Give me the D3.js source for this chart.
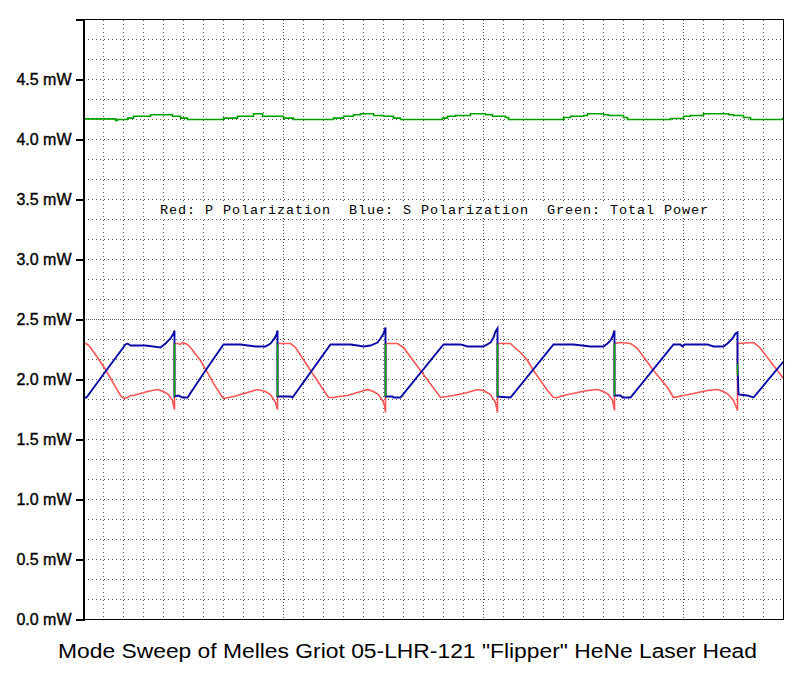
<!DOCTYPE html>
<html>
<head>
<meta charset="utf-8">
<script src="https://cdn.jsdelivr.net/npm/d3@7"></script>
<style>
  html, body { margin: 0; padding: 0; background: #fff; }
  svg { display: block; }
</style>
</head>
<body>
<svg id="chart" width="804" height="684"></svg>
<script>
// ---------------- data (x = sample index along the sweep, values in mW) ----------------
const titleText = 'Mode Sweep of Melles Griot 05-LHR-121 "Flipper" HeNe Laser Head';
const legendText = "Red: P Polarization  Blue: S Polarization  Green: Total Power";
const yTickValues = [0, 0.5, 1.0, 1.5, 2.0, 2.5, 3.0, 3.5, 4.0, 4.5];

// Red: P polarization
const redX = [0,4,7,14,22,30,37,40,44,47,50,57,64,74,80,85,89,90,91,
  91,94,97,99,104,107,117,124,130,137,140,150,164,174,182,187,192,194,
  194,197,207,212,227,245,250,255,264,274,284,290,295,299,301,302,
  302,314,317,320,337,357,370,384,394,400,407,412,414,
  414,427,430,437,444,450,457,464,470,474,480,494,504,514,520,525,529,531,
  531,537,547,550,554,570,584,590,600,610,624,634,640,645,650,654,
  654,655,670,674,677,700];
const redP = [2.308,2.292,2.267,2.183,2.083,1.967,1.867,1.842,1.850,1.867,1.867,1.883,1.900,1.917,1.900,1.875,1.825,1.783,1.750,
  2.300,2.300,2.292,2.308,2.292,2.267,2.158,2.058,1.967,1.875,1.842,1.858,1.892,1.917,1.900,1.875,1.808,1.750,
  2.300,2.300,2.300,2.267,2.075,1.850,1.850,1.858,1.867,1.892,1.917,1.900,1.875,1.825,1.783,1.725,
  2.300,2.300,2.283,2.267,2.075,1.850,1.867,1.892,1.917,1.908,1.875,1.808,1.725,
  2.300,2.300,2.275,2.225,2.158,2.075,1.992,1.908,1.850,1.850,1.867,1.892,1.908,1.917,1.900,1.875,1.825,1.742,
  2.300,2.308,2.300,2.283,2.258,2.075,1.933,1.850,1.867,1.883,1.908,1.917,1.900,1.875,1.825,1.742,
  2.300,2.300,2.308,2.283,2.258,2.008];

// Blue: S polarization
const blueX = [0,3,22,42,44,47,62,77,82,87,90,91,
  91,95,99,104,122,140,157,172,182,187,191,193,194,
  194,207,209,247,267,274,280,287,294,297,300,302,
  302,309,310,317,360,377,384,400,407,410,412,414,
  414,427,470,490,507,520,524,527,529,531,
  531,537,539,547,590,597,599,601,624,630,640,644,649,652,654,
  654,655,664,670,700];
const blueS = [1.850,1.850,2.067,2.292,2.300,2.283,2.283,2.267,2.300,2.342,2.383,2.408,
  1.858,1.867,1.850,1.850,2.075,2.292,2.292,2.275,2.275,2.300,2.342,2.375,2.408,
  1.858,1.858,1.850,2.292,2.292,2.283,2.275,2.283,2.308,2.342,2.383,2.433,
  1.858,1.858,1.850,1.850,2.292,2.292,2.275,2.275,2.308,2.350,2.400,2.425,
  1.858,1.850,2.292,2.292,2.275,2.275,2.300,2.325,2.358,2.408,
  1.867,1.867,1.850,1.850,2.292,2.292,2.275,2.292,2.292,2.275,2.275,2.300,2.342,2.383,2.392,
  2.133,1.875,1.867,1.850,2.150];

// Green: total power
const greenX = [0,32,34,44,50,67,89,97,104,140,154,170,179,200,210,250,260,270,277,290,300,310,317,
  359,364,372,387,402,409,422,425,480,487,500,504,520,525,540,544,587,600,607,620,645,650,660,667,699,700];
const greenT = [4.172,4.158,4.167,4.178,4.194,4.206,4.194,4.178,4.167,4.178,4.194,4.214,4.194,4.178,4.167,4.178,4.194,4.206,4.214,4.200,4.194,4.178,4.167,
  4.178,4.194,4.200,4.214,4.206,4.194,4.183,4.167,4.183,4.194,4.200,4.214,4.206,4.200,4.183,4.167,4.175,4.194,4.200,4.214,4.206,4.200,4.183,4.167,4.175,4.175];

// mode-hop transitions (green connectors)
const jumpX  = [91, 194, 302, 414, 531, 654];
const jumpLo = [1.858, 1.858, 1.858, 1.858, 1.867, 2.033];
const jumpHi = [2.300, 2.300, 2.300, 2.300, 2.300, 2.133];

// ---------------- drawing ----------------
const svg = d3.select("#chart");
svg.append("rect").attr("width", 804).attr("height", 684).attr("fill", "#fff");

const x = d3.scaleLinear().domain([0, 700]).range([83.5, 783.5]);
const y = d3.scaleLinear().domain([0, 5]).range([619.5, 19.5]);

// grid
const grid = svg.append("g").attr("shape-rendering", "crispEdges");
const hGrid = d3.range(1, 30).map(k => k * 5 / 30);
grid.selectAll("line.h").data(hGrid).join("line")
  .attr("x1", x(0)).attr("x2", x(700))
  .attr("y1", d => Math.round(y(d) - 0.5) + 0.5).attr("y2", d => Math.round(y(d) - 0.5) + 0.5)
  .attr("stroke", "#555").attr("stroke-width", 1)
  .attr("stroke-dasharray", (d, i) => (i + 1) === 15 ? "1,1" : "1,3");
const vGrid = d3.range(1, 35).map(k => k * 20);
grid.selectAll("line.v").data(vGrid).join("line")
  .attr("y1", y(5)).attr("y2", y(0))
  .attr("x1", d => x(d)).attr("x2", d => x(d))
  .attr("stroke", "#555").attr("stroke-width", 1)
  .attr("stroke-dasharray", d => d % 200 === 0 ? "1,2" : "1,3");

// legend with white backing
const legend = svg.append("text")
  .attr("x", 160).attr("y", 213.5)
  .attr("font-family", "'Liberation Mono', 'Courier New', monospace")
  .attr("font-size", 13.5)
  .attr("fill", "#000")
  .attr("xml:space", "preserve")
  .style("white-space", "pre")
  .attr("textLength", 548).attr("lengthAdjust", "spacing")
  .text(legendText);
const bb = legend.node().getBBox();
svg.insert("rect", "text")
  .attr("x", bb.x - 4).attr("y", 202).attr("width", bb.width + 8).attr("height", 15)
  .attr("fill", "#fff");

// series
const line = d3.line().x(d => x(d[0])).y(d => y(d[1]));
svg.append("path").datum(d3.zip(greenX, greenT))
  .attr("d", line.curve(d3.curveStepAfter))
  .attr("fill", "none").attr("stroke", "#00a000").attr("stroke-width", 1.6);
line.curve(d3.curveLinear);
svg.append("path").datum(d3.zip(redX, redP))
  .attr("d", line)
  .attr("fill", "none").attr("stroke", "#ff5555").attr("stroke-width", 1.6);
svg.append("path").datum(d3.zip(blueX, blueS))
  .attr("d", line)
  .attr("fill", "none").attr("stroke", "#0a0aa8").attr("stroke-width", 1.9);
svg.append("g").selectAll("line").data(d3.zip(jumpX, jumpLo, jumpHi)).join("line")
  .attr("x1", d => x(d[0])).attr("x2", d => x(d[0]))
  .attr("y1", d => y(d[1])).attr("y2", d => y(d[2]))
  .attr("stroke", "#00a000").attr("stroke-width", 1.6);

// frame
svg.append("rect")
  .attr("x", x(0)).attr("y", y(5)).attr("width", x(700) - x(0)).attr("height", y(0) - y(5))
  .attr("fill", "none").attr("stroke", "#000").attr("stroke-width", 1.5)
  .attr("shape-rendering", "crispEdges");

// y axis
const yAxis = d3.axisLeft(y).tickValues(yTickValues)
  .tickFormat(d => d3.format(".1f")(d) + " mW")
  .tickSize(8).tickPadding(4);
const ga = svg.append("g").attr("transform", `translate(${x(0)},0)`).call(yAxis);
ga.select(".domain").attr("stroke", "#000").attr("stroke-width", 1.5).attr("shape-rendering", "crispEdges");
ga.selectAll(".tick line").attr("stroke", "#000").attr("stroke-width", 1.5).attr("shape-rendering", "crispEdges");
ga.selectAll(".tick text")
  .attr("font-family", "'Liberation Sans', Arial, sans-serif")
  .attr("font-size", 16).attr("fill", "#000")
  .attr("stroke", "#000").attr("stroke-width", 0.35);

// title
svg.append("text")
  .attr("x", 58).attr("y", 658)
  .attr("font-family", "'Liberation Sans', Arial, sans-serif")
  .attr("font-size", 20)
  .attr("fill", "#000")
  .attr("textLength", 699).attr("lengthAdjust", "spacingAndGlyphs")
  .text(titleText);
</script>
</body>
</html>
